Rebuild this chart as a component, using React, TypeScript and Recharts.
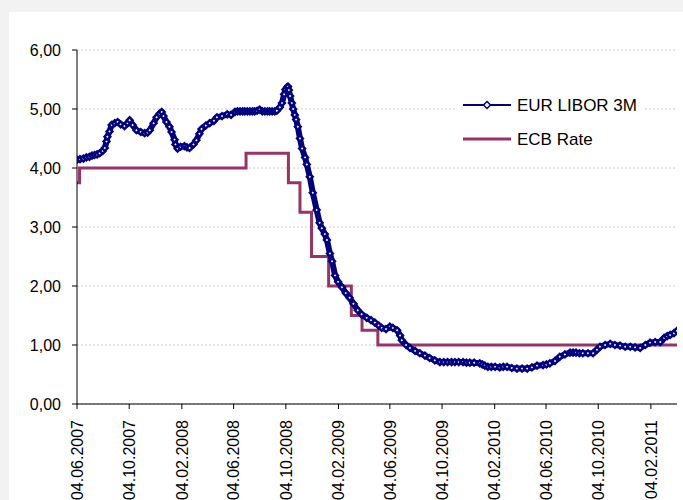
import { LineChart, Line, XAxis, YAxis, CartesianGrid } from "recharts";

// EUR LIBOR 3M (date, rate in %)
const liborSeries: [string, number][] = [
  ["2007-06-04", 4.14], ["2007-06-11", 4.15], ["2007-06-19", 4.16], ["2007-06-26", 4.18],
  ["2007-07-03", 4.19], ["2007-07-09", 4.21], ["2007-07-15", 4.22], ["2007-07-21", 4.23],
  ["2007-07-27", 4.25], ["2007-08-03", 4.29], ["2007-08-08", 4.34], ["2007-08-12", 4.45],
  ["2007-08-14", 4.53], ["2007-08-19", 4.62], ["2007-08-24", 4.73], ["2007-08-31", 4.76],
  ["2007-09-07", 4.78], ["2007-09-14", 4.74], ["2007-09-23", 4.71], ["2007-09-30", 4.76],
  ["2007-10-05", 4.81], ["2007-10-12", 4.73], ["2007-10-21", 4.64], ["2007-10-31", 4.61],
  ["2007-11-09", 4.59], ["2007-11-16", 4.6], ["2007-11-21", 4.64], ["2007-11-30", 4.76],
  ["2007-12-07", 4.86], ["2007-12-14", 4.92], ["2007-12-19", 4.95], ["2007-12-23", 4.88],
  ["2007-12-30", 4.78], ["2008-01-06", 4.7], ["2008-01-11", 4.61], ["2008-01-18", 4.48],
  ["2008-01-20", 4.4], ["2008-01-25", 4.33], ["2008-02-01", 4.36], ["2008-02-10", 4.37],
  ["2008-02-16", 4.35], ["2008-02-22", 4.34], ["2008-03-02", 4.4], ["2008-03-09", 4.47],
  ["2008-03-16", 4.58], ["2008-03-21", 4.66], ["2008-03-31", 4.72], ["2008-04-09", 4.76],
  ["2008-04-19", 4.8], ["2008-04-26", 4.86], ["2008-05-08", 4.88], ["2008-05-20", 4.91],
  ["2008-05-29", 4.9], ["2008-06-07", 4.95], ["2008-06-13", 4.96], ["2008-06-19", 4.96],
  ["2008-06-25", 4.96], ["2008-06-30", 4.96], ["2008-07-06", 4.96], ["2008-07-12", 4.96],
  ["2008-07-18", 4.96], ["2008-07-23", 4.96], ["2008-07-29", 4.97], ["2008-08-04", 4.99],
  ["2008-08-10", 4.96], ["2008-08-16", 4.96], ["2008-08-22", 4.96], ["2008-08-27", 4.96],
  ["2008-09-02", 4.96], ["2008-09-08", 4.96], ["2008-09-13", 4.97], ["2008-09-20", 5.03],
  ["2008-09-25", 5.1], ["2008-09-30", 5.25], ["2008-10-03", 5.33], ["2008-10-07", 5.37],
  ["2008-10-09", 5.38], ["2008-10-11", 5.32], ["2008-10-14", 5.22], ["2008-10-18", 5.1],
  ["2008-10-21", 5.0], ["2008-10-25", 4.9], ["2008-10-28", 4.82], ["2008-11-01", 4.7],
  ["2008-11-06", 4.5], ["2008-11-11", 4.33], ["2008-11-18", 4.18], ["2008-11-22", 4.06],
  ["2008-11-29", 3.85], ["2008-12-06", 3.58], ["2008-12-15", 3.29], ["2008-12-22", 3.07],
  ["2008-12-27", 2.98], ["2009-01-03", 2.88], ["2009-01-08", 2.78], ["2009-01-15", 2.55],
  ["2009-01-20", 2.42], ["2009-01-27", 2.18], ["2009-02-03", 2.07], ["2009-02-12", 1.98],
  ["2009-02-21", 1.88], ["2009-03-02", 1.8], ["2009-03-11", 1.7], ["2009-03-21", 1.59],
  ["2009-03-30", 1.52], ["2009-04-11", 1.46], ["2009-04-21", 1.42], ["2009-04-30", 1.38],
  ["2009-05-09", 1.33], ["2009-05-16", 1.29], ["2009-05-26", 1.27], ["2009-06-04", 1.31],
  ["2009-06-11", 1.29], ["2009-06-21", 1.25], ["2009-06-28", 1.16], ["2009-07-02", 1.08],
  ["2009-07-12", 1.0], ["2009-07-21", 0.95], ["2009-08-02", 0.9], ["2009-08-13", 0.86],
  ["2009-08-25", 0.82], ["2009-09-05", 0.78], ["2009-09-17", 0.74], ["2009-09-29", 0.71],
  ["2009-10-08", 0.71], ["2009-10-17", 0.71], ["2009-10-26", 0.71], ["2009-11-03", 0.71],
  ["2009-11-12", 0.71], ["2009-11-22", 0.71], ["2009-11-30", 0.7], ["2009-12-08", 0.7],
  ["2009-12-18", 0.7], ["2009-12-31", 0.69], ["2010-01-06", 0.67], ["2010-01-12", 0.65],
  ["2010-01-19", 0.63], ["2010-01-27", 0.63], ["2010-02-05", 0.63], ["2010-02-16", 0.62],
  ["2010-02-24", 0.63], ["2010-03-05", 0.63], ["2010-03-16", 0.61], ["2010-03-28", 0.6],
  ["2010-04-09", 0.6], ["2010-04-21", 0.6], ["2010-05-02", 0.62], ["2010-05-14", 0.65],
  ["2010-05-28", 0.66], ["2010-06-05", 0.67], ["2010-06-13", 0.69], ["2010-06-25", 0.73],
  ["2010-07-06", 0.8], ["2010-07-18", 0.84], ["2010-07-30", 0.87], ["2010-08-06", 0.87],
  ["2010-08-13", 0.87], ["2010-08-21", 0.86], ["2010-08-29", 0.86], ["2010-09-10", 0.86],
  ["2010-09-22", 0.86], ["2010-10-01", 0.92], ["2010-10-08", 0.97], ["2010-10-20", 1.0],
  ["2010-11-01", 1.02], ["2010-11-12", 1.0], ["2010-11-24", 0.99], ["2010-12-06", 0.97],
  ["2010-12-18", 0.97], ["2010-12-29", 0.96], ["2011-01-10", 0.95], ["2011-01-22", 1.0],
  ["2011-02-02", 1.04], ["2011-02-14", 1.05], ["2011-02-26", 1.05], ["2011-03-07", 1.12],
  ["2011-03-14", 1.15], ["2011-03-21", 1.17], ["2011-03-30", 1.2], ["2011-04-06", 1.24],
];

// ECB main refinancing rate, date the new rate starts
const ecbSeries: [string, number][] = [
  ["2007-06-04", 3.75], ["2007-06-10", 4.0], ["2008-07-03", 4.25], ["2008-10-10", 3.75],
  ["2008-11-06", 3.25], ["2008-12-03", 2.5], ["2009-01-12", 2.0], ["2009-03-06", 1.5],
  ["2009-03-31", 1.25], ["2009-05-07", 1.0], ["2011-04-06", 1.0],
];

const tickLabels = [
  "04.06.2007", "04.10.2007", "04.02.2008", "04.06.2008", "04.10.2008", "04.02.2009",
  "04.06.2009", "04.10.2009", "04.02.2010", "04.06.2010", "04.10.2010", "04.02.2011",
];

const yTicks = [0, 1, 2, 3, 4, 5, 6];

const NAVY = "#000080";
const PLUM = "#993366";
const FONT = "'Liberation Sans', Arial, sans-serif";

const toDay = (s: string) =>
  Date.UTC(+s.slice(0, 4), +s.slice(5, 7) - 1, +s.slice(8, 10)) / 86400000;
const labelToDay = (l: string) =>
  Date.UTC(+l.slice(6, 10), +l.slice(3, 5) - 1, +l.slice(0, 2)) / 86400000;

const liborData = liborSeries.map(([d, v]) => ({ day: toDay(d), rate: v }));
const ecbData = ecbSeries.map(([d, v]) => ({ day: toDay(d), rate: v }));
const xTicks = tickLabels.map(labelToDay);
const labelByDay: Record<number, string> = {};
tickLabels.forEach((l) => (labelByDay[labelToDay(l)] = l));

const DateTick = (props: any) => {
  const { x, y, payload } = props;
  return (
    <text
      x={x}
      y={y}
      transform={`rotate(-90, ${x}, ${y})`}
      textAnchor="end"
      dy="0.36em"
      fontSize={16}
      fontFamily={FONT}
      fill="#000"
    >
      {labelByDay[payload.value]}
    </text>
  );
};

const DiamondDot = (props: any) => {
  const { cx, cy, index } = props;
  if (cx == null || cy == null) return <g key={`d-${index}`} />;
  const r = 4.6;
  const w = 1.2;
  return (
    <g key={`d-${index}`}>
      <path d={`M${cx},${cy - r}L${cx + r},${cy}L${cx},${cy + r}L${cx - r},${cy}Z`} fill={NAVY} />
      <path d={`M${cx},${cy - w}L${cx + w},${cy}L${cx},${cy + w}L${cx - w},${cy}Z`} fill="#fff" />
    </g>
  );
};

function ChartLegend() {
  return (
    <svg
      width={186}
      height={72}
      style={{ position: "absolute", left: 457, top: 88, background: "#fff" }}
    >
      <line x1={6} y1={17} x2={54} y2={17} stroke={NAVY} strokeWidth={2} />
      <path d="M30,13.5L33.5,17L30,20.5L26.5,17Z" fill="#fff" stroke={NAVY} strokeWidth={1.5} />
      <text x={60} y={17} dy="0.36em" fontSize={17} fontFamily={FONT} fill="#000">
        EUR LIBOR 3M
      </text>
      <line x1={6} y1={51} x2={54} y2={51} stroke={PLUM} strokeWidth={3} />
      <text x={60} y={51} dy="0.36em" fontSize={17} fontFamily={FONT} fill="#000">
        ECB Rate
      </text>
    </svg>
  );
}

export default function App() {
  return (
    <div
      style={{
        position: "fixed",
        left: 0,
        top: 0,
        width: 683,
        height: 500,
        background: "#f2f2f2",
        overflow: "hidden",
      }}
    >
      <div
        style={{ position: "absolute", left: 9, top: 12, width: 674, height: 488, background: "#fff" }}
      />
      <div style={{ position: "absolute", left: 0, top: 0 }}>
        <LineChart width={683} height={500} margin={{ top: 50, right: 6, bottom: 0, left: 17 }}>
          <CartesianGrid vertical={false} stroke="#cccccc" strokeDasharray="2 2" />
          <XAxis
            dataKey="day"
            type="number"
            domain={[toDay("2007-06-04"), toDay("2011-04-06")]}
            ticks={xTicks}
            allowDataOverflow
            height={96}
            tick={<DateTick />}
            tickSize={5}
            tickMargin={11}
            axisLine={{ stroke: "#000" }}
            tickLine={{ stroke: "#000" }}
            interval={0}
          />
          <YAxis
            type="number"
            domain={[0, 6]}
            ticks={yTicks}
            width={60}
            tickSize={5}
            tickMargin={11}
            tickFormatter={(v: number) => v.toFixed(2).replace(".", ",")}
            tick={{ fill: "#000", fontSize: 16, fontFamily: FONT }}
            axisLine={{ stroke: "#000" }}
            tickLine={{ stroke: "#000" }}
          />
          <Line
            data={ecbData}
            dataKey="rate"
            type="stepAfter"
            stroke={PLUM}
            strokeWidth={3}
            dot={false}
            isAnimationActive={false}
          />
          <Line
            data={liborData}
            dataKey="rate"
            type="linear"
            stroke={NAVY}
            strokeWidth={6}
            strokeLinejoin="round"
            dot={DiamondDot}
            isAnimationActive={false}
          />
        </LineChart>
      </div>
      <ChartLegend />
    </div>
  );
}
